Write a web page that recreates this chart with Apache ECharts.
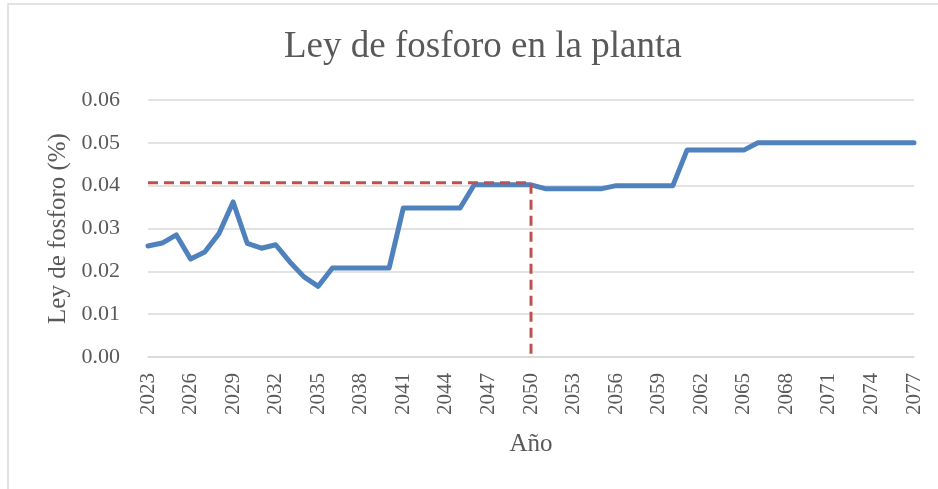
<!DOCTYPE html>
<html>
<head>
<meta charset="utf-8">
<script src="https://cdn.jsdelivr.net/npm/echarts@6/dist/echarts.min.js"></script>
<style>
  html, body { margin: 0; padding: 0; background: #fff; }
  #chart { width: 938px; height: 489px; }
</style>
</head>
<body>
<div id="chart"></div>
<script>
// Años (eje X)
const years = [
  "2023", "2024", "2025", "2026", "2027", "2028", "2029", "2030", "2031", "2032",
  "2033", "2034", "2035", "2036", "2037", "2038", "2039", "2040", "2041", "2042",
  "2043", "2044", "2045", "2046", "2047", "2048", "2049", "2050", "2051", "2052",
  "2053", "2054", "2055", "2056", "2057", "2058", "2059", "2060", "2061", "2062",
  "2063", "2064", "2065", "2066", "2067", "2068", "2069", "2070", "2071", "2072",
  "2073", "2074", "2075", "2076", "2077"
];

// Ley de fosforo (%) por año
const leyFosforo = [
  0.0259, 0.0266, 0.0285, 0.0229, 0.0245, 0.0288, 0.0362, 0.0265, 0.0254, 0.0262,
  0.0222, 0.0187, 0.0165, 0.0208, 0.0208, 0.0208, 0.0208, 0.0208, 0.0348, 0.0348,
  0.0348, 0.0348, 0.0348, 0.0402, 0.0402, 0.0402, 0.0402, 0.0402, 0.0393, 0.0393,
  0.0393, 0.0393, 0.0393, 0.0400, 0.0400, 0.0400, 0.0400, 0.0400, 0.0483, 0.0483,
  0.0483, 0.0483, 0.0483, 0.0500, 0.0500, 0.0500, 0.0500, 0.0500, 0.0500, 0.0500,
  0.0500, 0.0500, 0.0500, 0.0500, 0.0500
];

// Línea de referencia (punteada roja)
const refStart = "2023";
const refYear = "2050";
const refLevel = 0.0407;
const refPoints = [[refStart, refLevel], [refYear, refLevel], [refYear, 0]];

const textColor = "#595959";
const serif = "Liberation Serif";

const chart = echarts.init(document.getElementById("chart"));

const option = {
  backgroundColor: "#fff",
  animation: false,
  graphic: [{
    type: "rect",
    shape: { x: 8, y: 4, width: 1000, height: 1000 },
    style: { fill: "none", stroke: "#d9d9d9", lineWidth: 1.5 },
    silent: true
  }],
  title: {
    text: "Ley de fosforo en la planta",
    left: 279,
    top: 24,
    textStyle: { fontFamily: serif, fontSize: 37, fontWeight: "normal", color: textColor }
  },
  grid: { left: 148, right: 24, top: 100, bottom: 132 },
  xAxis: {
    type: "category",
    data: years,
    boundaryGap: false,
    name: "Año",
    nameLocation: "middle",
    nameGap: 75,
    nameTextStyle: { fontFamily: serif, fontSize: 25, color: textColor },
    axisLine: { lineStyle: { color: "#d9d9d9", width: 1.5 } },
    axisTick: { show: false },
    axisLabel: {
      interval: 2,
      rotate: 90,
      margin: 16,
      fontFamily: serif,
      fontSize: 21,
      color: textColor
    },
    splitLine: { show: false }
  },
  yAxis: {
    type: "value",
    min: 0,
    max: 0.06,
    interval: 0.01,
    name: "Ley de fosforo (%)",
    nameLocation: "middle",
    nameGap: 76,
    nameTextStyle: { fontFamily: serif, fontSize: 25, color: textColor },
    axisLine: { show: false },
    axisTick: { show: false },
    axisLabel: {
      margin: 28,
      fontFamily: serif,
      fontSize: 22,
      color: textColor,
      formatter: (v) => v.toFixed(2)
    },
    splitLine: { lineStyle: { color: "#d9d9d9", width: 1.5 } }
  },
  series: [
    {
      name: "Ley de fosforo",
      type: "line",
      data: leyFosforo,
      symbol: "none",
      lineStyle: { color: "#4F81BD", width: 5, cap: "round", join: "round" },
      z: 2
    },
    {
      name: "Referencia",
      type: "line",
      data: refPoints,
      symbol: "none",
      lineStyle: { color: "#C0504D", width: 3, type: [10, 6] },
      z: 3
    }
  ]
};

chart.setOption(option);
</script>
</body>
</html>
